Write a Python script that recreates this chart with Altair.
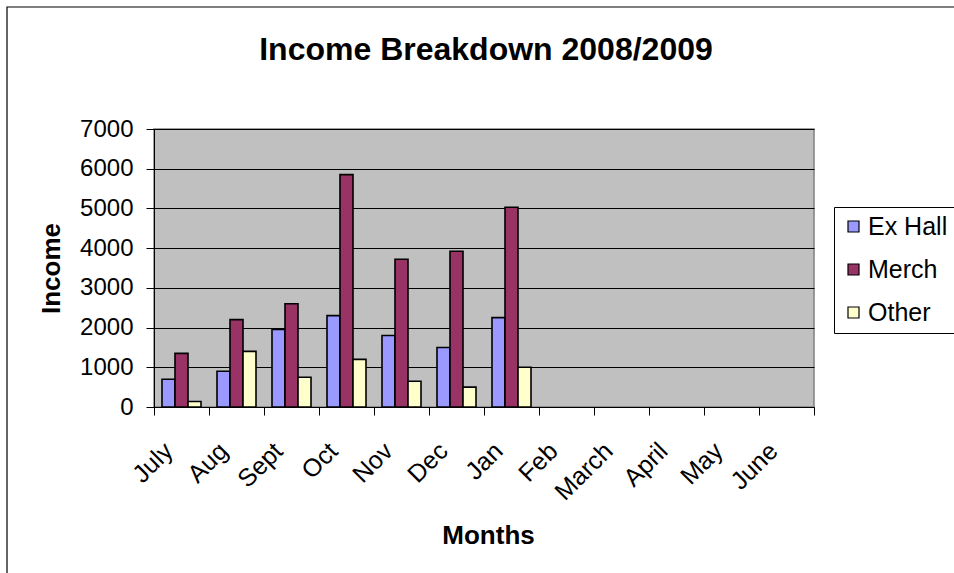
import altair as alt
import pandas as pd

months = ["July", "Aug", "Sept", "Oct", "Nov", "Dec", "Jan", "Feb", "March", "April", "May", "June"]
data_months = ["July", "Aug", "Sept", "Oct", "Nov", "Dec", "Jan"]
series = ["Ex Hall", "Merch", "Other"]
ex_hall = [700, 900, 1950, 2300, 1800, 1500, 2250]
merch = [1350, 2200, 2600, 5850, 3720, 3920, 5030]
other = [140, 1400, 750, 1200, 650, 500, 1000]
colors = ["#9999FF", "#993366", "#FFFFCC"]

rows = []
for i, m in enumerate(data_months):
    for s, vals in zip(series, [ex_hall, merch, other]):
        rows.append({"Month": m, "Series": s, "Income": vals[i]})
df = pd.DataFrame(rows)

FONT = "Liberation Sans"
W, H = 660, 278

bars = alt.Chart(df).mark_bar(stroke="black", strokeWidth=1.6).encode(
    x=alt.X("Month:N", sort=months,
            scale=alt.Scale(domain=months, paddingInner=0, paddingOuter=0),
            axis=alt.Axis(title="Months", labelAngle=-45, labelAlign="right",
                          labelBaseline="line-bottom", labelLineHeight=36.5,
                          labelFontSize=25, labelFont=FONT,
                          labelColor="black", labelPadding=45,
                          tickSize=8, tickBand="extent",
                          tickColor="black", domainColor="black", grid=False,
                          titleFontSize=26, titleFont=FONT, titleFontWeight="bold",
                          titleColor="black", titleX=334, titleY=136,
                          titleBaseline="alphabetic", labelOverlap=False)),
    xOffset=alt.XOffset("Series:N", sort=series,
                        scale=alt.Scale(domain=series, paddingInner=0, paddingOuter=0.615)),
    y=alt.Y("Income:Q", scale=alt.Scale(domain=[0, 7000], nice=False),
            axis=alt.Axis(title="Income", values=list(range(0, 7001, 1000)), format="d",
                          labelFontSize=24, labelFont=FONT, labelColor="black",
                          labelPadding=13, tickSize=8, tickColor="black",
                          domainColor="black", gridColor="black", gridWidth=1,
                          gridOpacity=1, titleFontSize=26, titleFont=FONT,
                          titleFontWeight="bold", titleColor="black",
                          titleX=-95, titleY=H / 2, titleBaseline="alphabetic",
                          titleAngle=-90)),
    color=alt.Color("Series:N", sort=series,
                    scale=alt.Scale(domain=series, range=colors),
                    legend=alt.Legend(title=None, orient="none", legendX=680, legendY=78,
                                      labelFontSize=25, labelFont=FONT, labelColor="black",
                                      symbolType="square", symbolSize=121,
                                      symbolStrokeColor="black", symbolStrokeWidth=1.2,
                                      labelOffset=2, rowPadding=17, padding=7,
                                      strokeColor="black", fillColor="white")),
)

frame = alt.Chart(alt.Data(values=[{"k": 1}])).mark_rect(
    fill="white", fillOpacity=0, stroke="black", strokeWidth=1.2
).encode(
    x=alt.value(-147), x2=alt.value(W + 400),
    y=alt.value(-122), y2=alt.value(H + 400),
)

chart = alt.layer(frame, bars).properties(
    width=W, height=H,
    title=alt.TitleParams("Income Breakdown 2008/2009", fontSize=32, font=FONT,
                          fontWeight="bold", color="black", anchor="middle",
                          baseline="alphabetic", offset=-86, dx=2),
    autosize=alt.AutoSizeParams(type="none"),
    padding={"left": 154, "top": 129, "right": 954 - 154 - W, "bottom": 573 - 129 - H},
    background="white",
).configure_view(
    fill="#C0C0C0", stroke="#808080", strokeWidth=1.5
)

chart.save("out.html", embed_options={"renderer": "svg", "actions": False})
